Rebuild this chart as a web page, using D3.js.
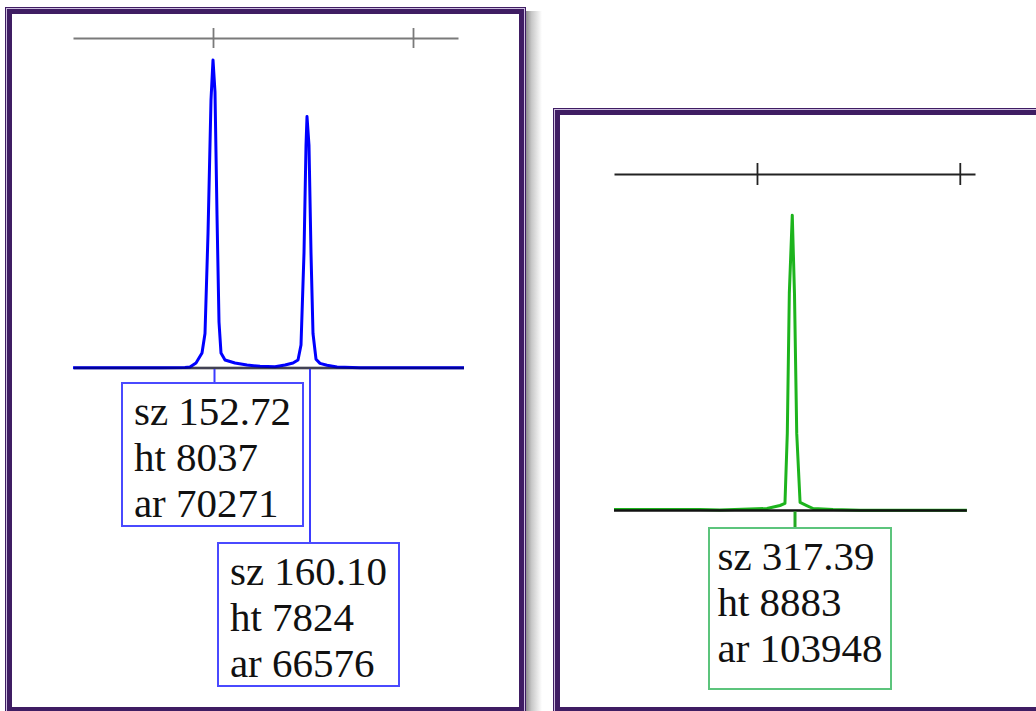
<!DOCTYPE html>
<html>
<head>
<meta charset="utf-8">
<script src="https://cdn.jsdelivr.net/npm/d3@7/dist/d3.min.js"></script>
<style>
  html, body { margin: 0; padding: 0; background: #ffffff; }
  svg { display: block; }
</style>
</head>
<body>
<svg id="chart" width="1036" height="711"></svg>
<script>
// ---------------- DATA ----------------
// Blue channel panel (left)
const leftTicks = [3500, 3700];
const leftTraceScan = [3360, 3407, 3447, 3472, 3477, 3483, 3489, 3492, 3495, 3498, 3500, 3502, 3504, 3506, 3508, 3512, 3522, 3534, 3547, 3562, 3572, 3580, 3585, 3588, 3591, 3593, 3594, 3596, 3598, 3600, 3603, 3607, 3614, 3624, 3647, 3751];
const leftTraceRfu  = [8, 8, 8, 12, 26, 130, 390, 900, 3500, 7000, 8037, 7200, 4000, 1200, 390, 210, 130, 78, 45, 30, 78, 130, 210, 600, 3000, 5800, 6560, 5800, 3000, 900, 230, 120, 70, 25, 8, 8];
const leftPeakScan   = [3501.5, 3597];
const leftPeakSize   = ["152.72", "160.10"];
const leftPeakHeight = [8037, 7824];
const leftPeakArea   = [70271, 66576];

// Green channel panel (right)
const rightTicks = [6700, 6900];
const rightTraceScan = [6559, 6600, 6643.8, 6663.5, 6709.9, 6722.7, 6727.6, 6729.9, 6731.9, 6734.8, 6737, 6739.2, 6742.5, 6749, 6755.3, 6775, 6801.6, 6907];
const rightTraceRfu  = [30, 30, 30, 15, 60, 150, 211, 2319, 6536, 8883, 6500, 2319, 241, 150, 60, 30, 10, 10];
const rightPeakScan   = [6737.5];
const rightPeakSize   = ["317.39"];
const rightPeakHeight = [8883];
const rightPeakArea   = [103948];

// ---------------- LAYOUT ----------------
const svg = d3.select("#chart");

// drop shadow gradient
const defs = svg.append("defs");
const grad = defs.append("linearGradient").attr("id", "shadow").attr("x1", "0").attr("x2", "1").attr("y1", "0").attr("y2", "0");
grad.append("stop").attr("offset", "0").attr("stop-color", "#8e8e8e");
grad.append("stop").attr("offset", "0.35").attr("stop-color", "#c8c8c8");
grad.append("stop").attr("offset", "1").attr("stop-color", "#ffffff");

function frame(x, y, w, h) {
  svg.append("rect").attr("x", x + w).attr("y", y + 4).attr("width", 16).attr("height", h).attr("fill", "url(#shadow)");
  svg.append("rect").attr("x", x).attr("y", y).attr("width", w).attr("height", h).attr("fill", "#3f1d63");
  svg.append("rect").attr("x", x + 1.5).attr("y", y + 1.5).attr("width", w - 3).attr("height", h - 3)
    .attr("fill", "none").attr("stroke", "#cdbedf").attr("stroke-width", 1);
  svg.append("rect").attr("x", x + 7).attr("y", y + 7).attr("width", w - 14).attr("height", h - 14).attr("fill", "#ffffff");
}

function panel(cfg) {
  const g = svg.append("g");
  const x = d3.scaleLinear().domain(cfg.xDomain).range(cfg.xRange);
  const y = d3.scaleLinear().domain(cfg.yDomain).range([cfg.baseY, cfg.topY]);

  // top scale axis (ticks cross the line)
  const axis = d3.axisTop(x).tickValues(cfg.ticks).tickFormat("").tickSizeInner(cfg.tickLen).tickSizeOuter(0);
  const ag = g.append("g").attr("transform", `translate(0,${cfg.topY})`).call(axis);
  ag.select(".domain").attr("stroke", cfg.axisColor).attr("stroke-width", 2.2);
  ag.selectAll(".tick line").attr("y1", cfg.tickLen).attr("y2", -cfg.tickLen)
    .attr("stroke", cfg.axisColor).attr("stroke-width", 1.8);

  const pts = cfg.scan.map((s, i) => [s, cfg.rfu[i]]);
  const line = d3.line().x(d => x(d[0])).y(d => y(d[1]));

  if (cfg.baseUnder) {
    g.append("line").attr("x1", x(cfg.baseFrom)).attr("x2", x(cfg.baseTo))
      .attr("y1", cfg.baseY).attr("y2", cfg.baseY).attr("stroke", cfg.baseColor).attr("stroke-width", 2.4);
  }
  g.append("path").datum(pts).attr("d", line).attr("fill", "none")
    .attr("stroke", cfg.traceColor).attr("stroke-width", 3).attr("stroke-linejoin", "round");
  if (!cfg.baseUnder) {
    g.append("line").attr("x1", x(cfg.baseFrom)).attr("x2", x(cfg.baseTo))
      .attr("y1", cfg.baseY).attr("y2", cfg.baseY).attr("stroke", cfg.baseColor).attr("stroke-width", 2.4);
  } else {
    g.append("line").attr("x1", x(cfg.baseFrom)).attr("x2", x(cfg.baseTo))
      .attr("y1", cfg.baseY).attr("y2", cfg.baseY).attr("stroke", "rgba(0,0,40,0.45)").attr("stroke-width", 2.4);
  }

  // peak labels
  cfg.peakScan.forEach((s, i) => {
    const b = cfg.boxes[i];
    const px = x(s);
    g.append("line").attr("x1", px).attr("x2", px).attr("y1", cfg.baseY + 1).attr("y2", b.top)
      .attr("stroke", cfg.connColor).attr("stroke-width", cfg.connWidth);
    g.append("rect").attr("x", b.left).attr("y", b.top).attr("width", b.w).attr("height", b.h)
      .attr("fill", "#ffffff").attr("stroke", cfg.boxColor).attr("stroke-width", 2);
    const lines = ["sz " + cfg.size[i], "ht " + cfg.height[i], "ar " + cfg.area[i]];
    const tg = g.append("g");
    const texts = tg.selectAll("text").data(lines).join("text")
      .attr("x", 0).attr("y", (d, k) => b.top + 42 + k * 46)
      .attr("font-family", "'Liberation Serif', 'Times New Roman', serif")
      .attr("font-size", 41).attr("fill", "#111111").text(d => d);
    let maxW = 0;
    texts.each(function () { maxW = Math.max(maxW, this.getComputedTextLength()); });
    tg.attr("transform", `translate(${b.left + b.w / 2 - maxW / 2},0)`);
  });
}

frame(5, 7, 521, 707);
frame(553, 108, 500, 606);

panel({
  xDomain: [3360, 3745], xRange: [73, 458],
  yDomain: [0, 8610], baseY: 368, topY: 38,
  ticks: leftTicks, tickLen: 10, axisColor: "#7a7a7a",
  scan: leftTraceScan, rfu: leftTraceRfu,
  baseFrom: 3361, baseTo: 3751, baseColor: "#777777", baseUnder: true,
  traceColor: "#0000ff", connColor: "#3b3bff", connWidth: 2, boxColor: "#4a4aff",
  peakScan: leftPeakScan, size: leftPeakSize, height: leftPeakHeight, area: leftPeakArea,
  boxes: [{ left: 122, top: 383, w: 181, h: 143 }, { left: 218, top: 543, w: 181, h: 143 }]
});

panel({
  xDomain: [6559, 6915], xRange: [614, 975],
  yDomain: [0, 10120], baseY: 510.5, topY: 174,
  ticks: rightTicks, tickLen: 11, axisColor: "#222222",
  scan: rightTraceScan, rfu: rightTraceRfu,
  baseFrom: 6559, baseTo: 6907, baseColor: "#111111", baseUnder: false,
  traceColor: "#1db41d", connColor: "#22aa22", connWidth: 3, boxColor: "#5cc47c",
  peakScan: rightPeakScan, size: rightPeakSize, height: rightPeakHeight, area: rightPeakArea,
  boxes: [{ left: 709, top: 528, w: 182, h: 161 }]
});
</script>
</body>
</html>
